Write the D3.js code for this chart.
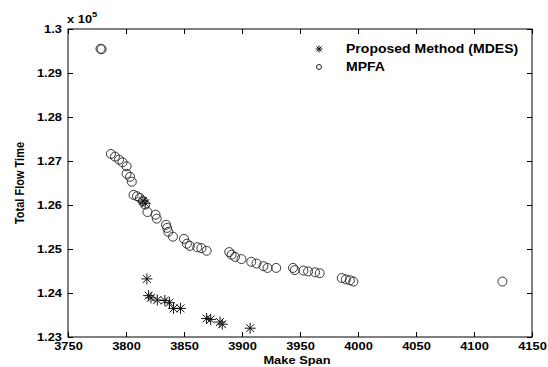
<!DOCTYPE html>
<html>
<head>
<meta charset="utf-8">
<script src="https://cdn.jsdelivr.net/npm/d3@7"></script>
<style>
  body { margin: 0; background: #fff; }
  text { font-family: "Liberation Sans", Arial, sans-serif; font-weight: bold; fill: #000; }
</style>
</head>
<body>
<div id="chart"></div>
<script>
// values (flow time in units of 1e5)
const mpfaX = [3778, 3779, 3787, 3790.5, 3794, 3797, 3800.5, 3800.5, 3803.5, 3805,
  3806.5, 3809.5, 3812, 3814.5, 3816.5, 3818.5, 3825.5, 3826.5, 3834.5, 3835.5,
  3836.5, 3840.5, 3850, 3852.5, 3855, 3861.5, 3865, 3869.5, 3889, 3891,
  3894, 3899.5, 3908, 3912.5, 3918.5, 3922, 3929.5, 3944, 3945.5, 3953,
  3957, 3963, 3967, 3986, 3989.5, 3993, 3996, 4124.5];
const mpfaY = [1.2955, 1.2954, 1.2716, 1.2710, 1.2703, 1.2697, 1.2688, 1.2671, 1.2664, 1.2653,
  1.2623, 1.2620, 1.2616, 1.2609, 1.2601, 1.2584, 1.2578, 1.2569, 1.2555, 1.2548,
  1.2539, 1.2528, 1.2523, 1.2512, 1.2507, 1.2504, 1.2502, 1.2496, 1.2493, 1.2487,
  1.2482, 1.2477, 1.2471, 1.2467, 1.2461, 1.2457, 1.2457, 1.2457, 1.2452, 1.2451,
  1.2449, 1.2447, 1.2445, 1.2434, 1.2431, 1.2429, 1.2426, 1.2426];

const mdesX = [3814.5, 3816.5, 3818, 3819.5, 3821.5, 3827, 3833.5, 3837.5, 3841, 3847,
  3869.5, 3873, 3881, 3883, 3907];
const mdesY = [1.2609, 1.2604, 1.2432, 1.2394, 1.2389, 1.2384, 1.2383, 1.2378, 1.2365, 1.2365,
  1.2342, 1.2340, 1.2334, 1.2329, 1.2320];

const xTicks = [3750, 3800, 3850, 3900, 3950, 4000, 4050, 4100, 4150];
const yTicks = [1.23, 1.24, 1.25, 1.26, 1.27, 1.28, 1.29, 1.3];
const legendLabels = ["Proposed Method (MDES)", "MPFA"];

const W = 548, H = 367;
const margin = { top: 29, right: 16, bottom: 30, left: 68 };
const width = W - margin.left - margin.right;
const height = H - margin.top - margin.bottom;
const SX = 1.17; // the picture is stretched a bit sideways

const svg = d3.select("#chart").append("svg")
  .attr("width", W)
  .attr("height", H);

const g = svg.append("g")
  .attr("transform", `translate(${margin.left},${margin.top})`);

const x = d3.scaleLinear().domain([3750, 4150]).range([0, width]);
const y = d3.scaleLinear().domain([1.23, 1.3]).range([height, 0]);

const fmtY = d => d3.format("")(+d.toFixed(2));

// bottom axis with labels
const xAxis = g.append("g")
  .attr("transform", `translate(0,${height})`)
  .call(d3.axisBottom(x).tickValues(xTicks).tickSize(-5).tickPadding(5).tickFormat(d3.format("d")));
xAxis.selectAll("text").attr("font-size", 11).attr("transform", `scale(${SX},1)`);

// left axis with labels
const yAxis = g.append("g")
  .call(d3.axisLeft(y).tickValues(yTicks).tickSize(-5).tickFormat(fmtY));
yAxis.selectAll("text").attr("font-size", 11).attr("x", -6 / SX).attr("transform", `scale(${SX},1)`);

// top and right ticks, no labels
g.append("g").call(d3.axisTop(x).tickValues(xTicks).tickSize(-5).tickFormat(""));
g.append("g").attr("transform", `translate(${width},0)`)
  .call(d3.axisRight(y).tickValues(yTicks).tickSize(-5).tickFormat(""));

g.selectAll(".domain").remove();
g.selectAll(".tick line").attr("stroke", "#000");

g.append("rect")
  .attr("width", width)
  .attr("height", height)
  .attr("fill", "none")
  .attr("stroke", "#000")
  .attr("stroke-width", 1);

// MPFA circles
g.selectAll("circle.mpfa")
  .data(mpfaX)
  .enter()
  .append("circle")
  .attr("class", "mpfa")
  .attr("cx", d => x(d))
  .attr("cy", (d, i) => y(mpfaY[i]))
  .attr("r", 4.5)
  .attr("fill", "none")
  .attr("stroke", "#222")
  .attr("stroke-width", 0.9);

// MDES asterisks
const star = r => {
  const a = r * 0.72;
  return `M${-r},0L${r},0M0,${-r}L0,${r}M${-a},${-a}L${a},${a}M${-a},${a}L${a},${-a}`;
};
g.selectAll("path.mdes")
  .data(mdesX)
  .enter()
  .append("path")
  .attr("class", "mdes")
  .attr("transform", (d, i) => `translate(${x(d)},${y(mdesY[i])})`)
  .attr("d", star(5.5))
  .attr("fill", "none")
  .attr("stroke", "#111")
  .attr("stroke-width", 1);

// legend
const leg = svg.append("g");
leg.append("path")
  .attr("transform", "translate(319,49)")
  .attr("d", star(3.5))
  .attr("stroke", "#111")
  .attr("fill", "none");
leg.append("circle")
  .attr("cx", 319).attr("cy", 67).attr("r", 2.5)
  .attr("fill", "none").attr("stroke", "#222");
legendLabels.forEach((t, i) => {
  leg.append("text")
    .attr("transform", `translate(346,${49 + i * 18}) scale(${SX},1)`)
    .attr("dy", "0.35em")
    .attr("font-size", 12)
    .text(t);
});

// axis titles
svg.append("text")
  .attr("transform", `translate(297,364) scale(${SX},1)`)
  .attr("text-anchor", "middle")
  .attr("font-size", 11)
  .text("Make Span");

svg.append("text")
  .attr("transform", `translate(24,183) rotate(-90) scale(1,${SX})`)
  .attr("text-anchor", "middle")
  .attr("font-size", 11)
  .text("Total Flow Time");

// exponent label
const ex = svg.append("text")
  .attr("transform", `translate(67,23) scale(${SX},1)`)
  .attr("font-size", 11);
ex.append("tspan").text("x 10");
ex.append("tspan").attr("dy", -6).attr("font-size", 8).text("5");
</script>
</body>
</html>
